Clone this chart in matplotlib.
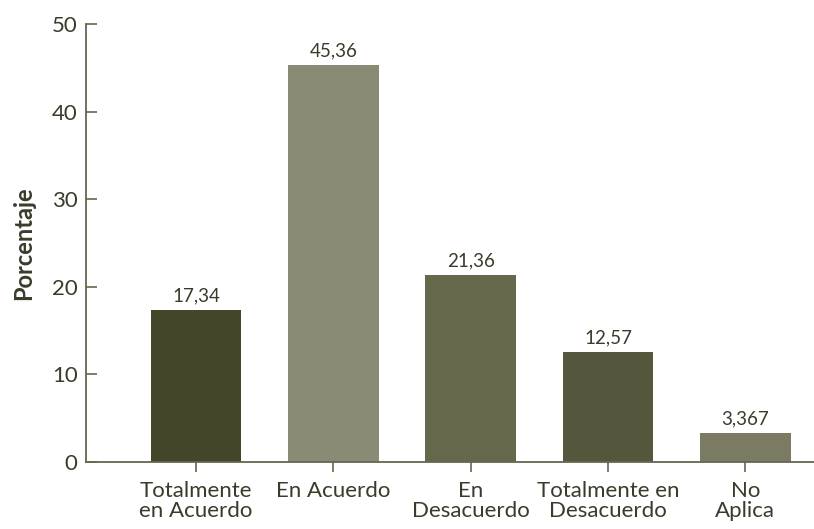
import matplotlib
matplotlib.use("Agg")
import matplotlib.pyplot as plt

categories = ["Totalmente\nen Acuerdo", "En Acuerdo", "En\nDesacuerdo", "Totalmente en\nDesacuerdo", "No\nAplica"]
values = [17.34, 45.36, 21.36, 12.57, 3.367]
value_labels = ["17,34", "45,36", "21,36", "12,57", "3,367"]
colors = ["#434629", "#8a8b74", "#66684c", "#54573b", "#7a7b62"]

plt.rcParams['font.family'] = ['Lato', 'DejaVu Sans']
text_color = "#3a3b2a"
spine_color = "#65674f"

fig = plt.figure(figsize=(8.14, 5.29), dpi=100)
ax = fig.add_axes([86/814, 1-462/529, 1-86/814, (462-24)/529])

x = list(range(len(categories)))
bars = ax.bar(x, values, width=0.66, color=colors, zorder=2)
for xi, v, lab in zip(x, values, value_labels):
    ax.annotate(lab, (xi, v), xytext=(0, 4), textcoords="offset points",
                ha="center", va="bottom", fontsize=13.5, color=text_color)

ax.set_xlim(-0.8, 4.5)
ax.set_ylim(0, 50)
ax.set_yticks([0, 10, 20, 30, 40, 50])
ax.set_xticks(x)
ax.set_xticklabels(categories, fontsize=16, color=text_color, linespacing=0.98, va="top")
ax.tick_params(axis="y", direction="in", length=8, width=1.2, color=spine_color,
               labelsize=16, labelcolor=text_color, pad=6)
ax.tick_params(axis="x", direction="out", length=7, width=1.2, color=spine_color, pad=7)

for s in ["top", "right"]:
    ax.spines[s].set_visible(False)
for s in ["left", "bottom"]:
    ax.spines[s].set_color(spine_color)
    ax.spines[s].set_linewidth(1.3)

ax.set_ylabel("Porcentaje", fontsize=17, fontweight="bold", color=text_color, labelpad=12)

fig.savefig("out.png", dpi=100)
